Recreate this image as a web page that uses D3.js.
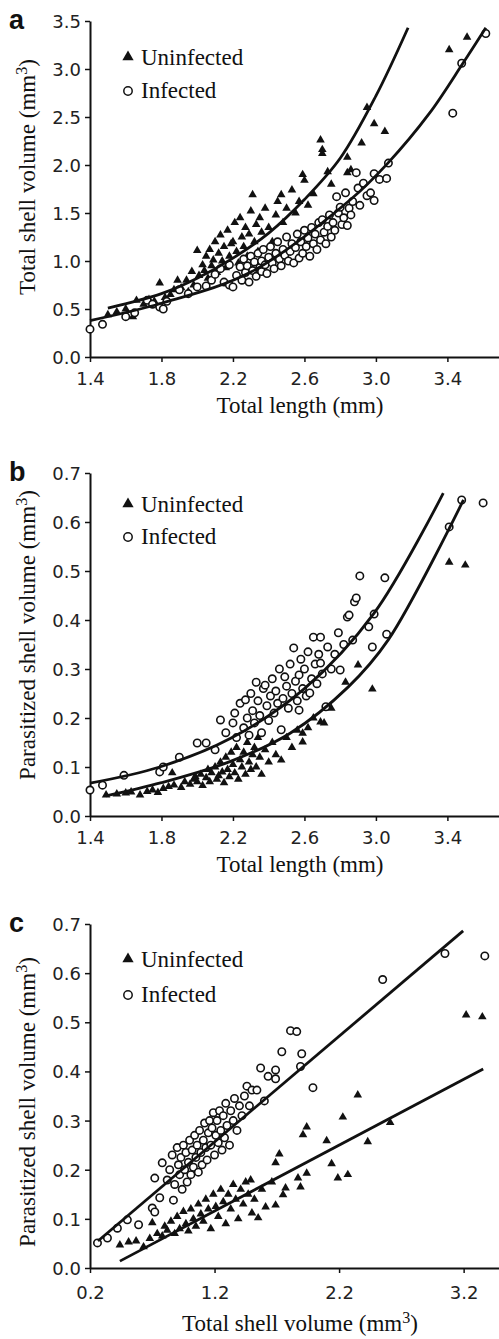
<!DOCTYPE html>
<html>
<head>
<meta charset="utf-8">
<script src="https://cdn.jsdelivr.net/npm/d3@7"></script>
<style>
  body { margin: 0; background: #fff; }
  svg { display: block; }
</style>
</head>
<body>
<div id="chart"></div>
<script>
// ---- panel a: total length (mm) vs total shell volume (mm3) ----
var aUninfected = [
  [1.50,0.44],[1.55,0.47],[1.60,0.50],[1.64,0.42],[1.66,0.59],[1.70,0.55],[1.73,0.60],[1.76,0.58],
  [1.79,0.77],[1.82,0.62],[1.85,0.65],[1.87,0.70],[1.89,0.80],[1.91,0.72],[1.94,0.80],[1.95,0.68],
  [1.97,0.89],[1.98,0.75],[2.00,1.11],[2.01,0.85],[2.03,0.96],[2.04,0.90],[2.05,1.05],[2.06,0.82],
  [2.07,1.12],[2.08,0.95],[2.09,1.01],[2.10,1.20],[2.11,0.88],[2.12,1.08],[2.13,1.27],[2.14,1.00],
  [2.15,1.15],[2.16,0.93],[2.17,1.32],[2.18,1.05],[2.19,1.18],[2.20,1.20],[2.21,1.40],[2.22,1.10],
  [2.23,0.98],[2.24,1.45],[2.25,1.25],[2.26,1.15],[2.27,1.35],[2.28,1.05],[2.29,1.28],[2.30,1.52],
  [2.31,1.69],[2.32,1.20],[2.33,1.38],[2.34,1.10],[2.35,1.45],[2.36,1.30],[2.38,1.55],[2.40,1.35],
  [2.42,1.20],[2.44,1.48],[2.45,1.62],[2.47,1.69],[2.48,1.40],[2.50,1.55],[2.53,1.74],[2.55,1.50],
  [2.57,1.62],[2.59,1.90],[2.60,1.84],[2.62,1.58],[2.65,1.70],[2.69,2.26],[2.70,2.16],[2.70,2.12],
  [2.73,1.93],[2.75,1.80],[2.84,2.08],[2.84,1.92],[2.86,1.95],[2.92,2.23],[2.95,2.60],[2.99,2.43],
  [3.05,2.35],[3.41,3.20],[3.51,3.33]
];
var aInfected = [
  [1.40,0.29],[1.47,0.34],[1.60,0.42],[1.65,0.46],[1.72,0.59],[1.75,0.55],[1.79,0.52],[1.81,0.50],
  [1.83,0.58],[1.90,0.70],[1.95,0.66],[2.00,0.73],[2.05,0.74],[2.08,0.80],[2.10,0.86],[2.13,0.92],
  [2.15,0.78],[2.18,0.75],[2.18,0.96],[2.20,0.73],[2.22,0.85],[2.24,0.94],[2.25,0.80],[2.26,1.02],
  [2.27,0.88],[2.28,0.95],[2.29,0.78],[2.30,1.05],[2.31,0.90],[2.32,0.99],[2.33,0.84],[2.34,1.08],
  [2.35,0.93],[2.36,0.89],[2.36,1.00],[2.37,1.12],[2.38,0.96],[2.39,0.87],[2.40,1.04],[2.41,1.15],
  [2.42,0.98],[2.43,0.92],[2.44,1.08],[2.45,1.20],[2.46,1.02],[2.47,0.95],[2.48,1.12],[2.49,1.06],
  [2.50,1.25],[2.51,1.00],[2.52,1.10],[2.53,1.18],[2.54,0.98],[2.55,1.14],[2.56,1.28],[2.57,1.03],
  [2.58,1.20],[2.59,1.08],[2.60,1.32],[2.61,1.15],[2.62,1.24],[2.63,1.05],[2.64,1.35],[2.65,1.18],
  [2.66,1.28],[2.67,1.12],[2.68,1.40],[2.69,1.22],[2.70,1.43],[2.71,1.30],[2.72,1.18],[2.73,1.36],
  [2.74,1.48],[2.75,1.25],[2.76,1.40],[2.77,1.32],[2.78,1.67],[2.79,1.50],[2.80,1.56],[2.81,1.38],
  [2.82,1.45],[2.83,1.71],[2.84,1.37],[2.85,1.55],[2.86,1.48],[2.87,1.62],[2.89,1.92],[2.90,1.76],
  [2.91,1.58],[2.93,1.81],[2.95,1.68],[2.97,1.71],[2.99,1.63],[2.99,1.91],[3.02,1.85],[3.06,1.86],
  [3.07,2.02],[3.43,2.54],[3.48,3.06],[3.615,3.37]
];
// fitted curves
var aFitUninfected = [[1.50,0.51],[1.80,0.66],[2.00,0.82],[2.20,1.03],[2.40,1.29],[2.60,1.64],[2.80,2.07],[3.00,2.72],[3.18,3.43]];
var aFitInfected = [[1.40,0.38],[1.80,0.56],[2.30,0.885],[2.855,1.635],[3.067,2.02],[3.30,2.54],[3.487,3.06],[3.615,3.43]];

// ---- panel b: total length (mm) vs parasitized shell volume (mm3) ----
var bUninfected = [
  [1.49,0.043],[1.55,0.045],[1.60,0.047],[1.63,0.049],[1.68,0.043],[1.72,0.050],[1.75,0.053],[1.78,0.048],
  [1.81,0.056],[1.84,0.060],[1.86,0.088],[1.87,0.063],[1.91,0.058],[1.93,0.070],[1.96,0.065],[1.98,0.075],
  [1.99,0.080],[2.00,0.070],[2.02,0.085],[2.03,0.062],[2.05,0.078],[2.06,0.095],[2.07,0.070],[2.08,0.088],
  [2.10,0.100],[2.11,0.075],[2.12,0.082],[2.13,0.110],[2.14,0.090],[2.15,0.068],[2.16,0.120],[2.17,0.095],
  [2.18,0.080],[2.19,0.130],[2.20,0.105],[2.21,0.088],[2.22,0.140],[2.23,0.075],[2.24,0.115],[2.25,0.100],
  [2.26,0.130],[2.27,0.085],[2.28,0.150],[2.29,0.110],[2.30,0.095],[2.31,0.125],[2.32,0.140],[2.33,0.100],
  [2.34,0.160],[2.35,0.120],[2.36,0.085],[2.38,0.135],[2.40,0.110],[2.42,0.150],[2.44,0.125],[2.47,0.114],
  [2.50,0.160],[2.53,0.140],[2.56,0.175],[2.59,0.169],[2.59,0.151],[2.62,0.180],[2.65,0.200],[2.69,0.192],
  [2.71,0.190],[2.75,0.220],[2.83,0.273],[2.90,0.308],[2.98,0.259],[3.41,0.518],[3.50,0.512]
];
var bInfected = [
  [1.40,0.053],[1.47,0.063],[1.59,0.083],[1.79,0.090],[1.81,0.100],[1.90,0.120],[2.00,0.149],[2.05,0.149],
  [2.10,0.135],[2.13,0.196],[2.16,0.170],[2.20,0.190],[2.21,0.210],[2.22,0.160],[2.24,0.230],[2.26,0.180],
  [2.27,0.237],[2.28,0.200],[2.29,0.165],[2.30,0.250],[2.31,0.215],[2.32,0.190],[2.33,0.273],[2.34,0.235],
  [2.35,0.205],[2.36,0.170],[2.37,0.260],[2.38,0.267],[2.39,0.225],[2.40,0.195],[2.41,0.245],[2.42,0.280],
  [2.43,0.210],[2.44,0.255],[2.45,0.230],[2.46,0.300],[2.47,0.176],[2.48,0.240],[2.49,0.284],[2.50,0.265],
  [2.51,0.220],[2.52,0.310],[2.53,0.250],[2.54,0.343],[2.55,0.275],[2.56,0.235],[2.57,0.288],[2.57,0.216],
  [2.58,0.320],[2.59,0.260],[2.60,0.300],[2.61,0.245],[2.62,0.335],[2.63,0.251],[2.64,0.280],[2.65,0.365],
  [2.66,0.310],[2.67,0.270],[2.68,0.330],[2.69,0.312],[2.69,0.365],[2.70,0.290],[2.72,0.223],[2.73,0.345],
  [2.75,0.300],[2.77,0.330],[2.79,0.374],[2.80,0.298],[2.82,0.350],[2.84,0.406],[2.85,0.410],[2.87,0.359],
  [2.88,0.437],[2.89,0.445],[2.91,0.490],[2.96,0.386],[2.98,0.345],[2.99,0.412],[3.05,0.486],[3.06,0.371],
  [3.41,0.590],[3.48,0.645],[3.60,0.639]
];
var bFitInfected = [[1.40,0.067],[1.79,0.100],[2.19,0.159],[2.60,0.260],[2.99,0.414],[3.377,0.659]];
var bFitUninfected = [[1.49,0.041],[1.80,0.068],[2.19,0.112],[2.52,0.169],[2.844,0.263],[3.07,0.360],[3.49,0.645]];

// ---- panel c: total shell volume (mm3) vs parasitized shell volume (mm3) ----
var cUninfected = [
  [0.44,0.047],[0.51,0.053],[0.57,0.055],[0.63,0.043],[0.68,0.060],[0.70,0.092],[0.74,0.070],[0.78,0.065],
  [0.80,0.085],[0.82,0.077],[0.85,0.095],[0.88,0.070],[0.90,0.105],[0.92,0.080],[0.95,0.115],[0.97,0.090],
  [0.99,0.075],[1.01,0.120],[1.03,0.100],[1.05,0.085],[1.07,0.130],[1.09,0.110],[1.11,0.095],[1.13,0.140],
  [1.15,0.120],[1.17,0.080],[1.19,0.150],[1.21,0.125],[1.23,0.105],[1.25,0.160],[1.27,0.135],[1.29,0.090],
  [1.31,0.150],[1.33,0.120],[1.35,0.170],[1.37,0.140],[1.39,0.100],[1.41,0.160],[1.43,0.130],[1.45,0.175],
  [1.47,0.150],[1.49,0.179],[1.50,0.112],[1.52,0.140],[1.55,0.102],[1.58,0.160],[1.61,0.124],[1.66,0.175],
  [1.69,0.128],[1.69,0.214],[1.72,0.232],[1.75,0.149],[1.77,0.163],[1.87,0.183],[1.89,0.165],[1.91,0.271],
  [1.94,0.287],[1.94,0.193],[2.10,0.259],[2.14,0.212],[2.19,0.183],[2.23,0.307],[2.27,0.190],[2.35,0.352],
  [2.43,0.257],[2.61,0.296],[3.22,0.515],[3.35,0.511]
];
var cInfected = [
  [0.26,0.051],[0.34,0.061],[0.42,0.081],[0.50,0.098],[0.59,0.088],[0.70,0.122],[0.72,0.114],[0.72,0.183],
  [0.76,0.143],[0.78,0.214],[0.82,0.179],[0.84,0.200],[0.86,0.230],[0.87,0.138],[0.88,0.170],[0.90,0.245],
  [0.91,0.210],[0.92,0.190],[0.93,0.225],[0.94,0.160],[0.95,0.250],[0.96,0.200],[0.97,0.235],[0.98,0.175],
  [0.99,0.215],[1.00,0.260],[1.01,0.190],[1.02,0.240],[1.03,0.205],[1.04,0.270],[1.05,0.225],[1.06,0.250],
  [1.07,0.195],[1.08,0.280],[1.09,0.235],[1.10,0.210],[1.11,0.260],[1.12,0.295],[1.13,0.245],[1.14,0.220],
  [1.15,0.275],[1.16,0.300],[1.17,0.250],[1.18,0.285],[1.19,0.316],[1.20,0.230],[1.21,0.270],[1.22,0.300],
  [1.23,0.255],[1.24,0.320],[1.25,0.280],[1.26,0.240],[1.27,0.310],[1.28,0.265],[1.29,0.335],[1.30,0.290],
  [1.32,0.250],[1.33,0.320],[1.35,0.300],[1.36,0.345],[1.38,0.280],[1.40,0.330],[1.42,0.310],[1.44,0.350],
  [1.46,0.370],[1.48,0.330],[1.50,0.362],[1.54,0.362],[1.57,0.407],[1.60,0.340],[1.63,0.390],[1.69,0.403],
  [1.69,0.385],[1.74,0.440],[1.81,0.483],[1.86,0.481],[1.89,0.410],[1.90,0.436],[1.99,0.367],[2.55,0.587],
  [3.05,0.640],[3.37,0.635]
];
var cFitInfected = [[0.264,0.055],[3.196,0.686]];
var cFitUninfected = [[0.44,0.014],[3.357,0.405]];

var lengthTicks = [1.4, 1.8, 2.2, 2.6, 3.0, 3.4];
var volumeTicks = [0.2, 1.2, 2.2, 3.2];
var aYTicks = [0.0, 0.5, 1.0, 1.5, 2.0, 2.5, 3.0, 3.5];
var bcYTicks = [0.0, 0.1, 0.2, 0.3, 0.4, 0.5, 0.6, 0.7];
var legendLabels = ['Uninfected', 'Infected'];

var SERIF = '"Liberation Serif", "Times New Roman", serif';
var SANS = '"DejaVu Sans", Verdana, sans-serif';
var INK = '#111';

var svg = d3.select('#chart').append('svg')
  .attr('width', 499)
  .attr('height', 1339);

// text with a trailing "3" superscript inside the unit
function addTitle(sel, parts) {
  parts.forEach(function (p) {
    var t = sel.append('tspan').text(p.text);
    if (p.sup) t.attr('baseline-shift', 'super').attr('font-size', '70%');
  });
}

function drawPanel(cfg) {
  var x = d3.scaleLinear().domain(cfg.xDomain).range([90, 501]);
  var y = d3.scaleLinear().domain(cfg.yDomain).range([cfg.bottom, cfg.top]);
  var g = svg.append('g');

  var xAxis = g.append('g')
    .attr('transform', 'translate(0,' + cfg.bottom + ')')
    .call(d3.axisBottom(x).tickValues(cfg.xTicks).tickSize(5).tickSizeOuter(0)
      .tickFormat(d3.format('.1f')));
  var yAxis = g.append('g')
    .attr('transform', 'translate(90,0)')
    .call(d3.axisLeft(y).tickValues(cfg.yTicks).tickSize(5).tickSizeOuter(0)
      .tickFormat(d3.format('.1f')));

  [xAxis, yAxis].forEach(function (ax) {
    ax.select('.domain').attr('stroke', INK).attr('stroke-width', 2);
    ax.selectAll('.tick line').attr('stroke', INK).attr('stroke-width', 1.5);
    ax.selectAll('.tick text')
      .attr('font-family', SANS).attr('font-size', 18).attr('fill', '#222');
  });
  xAxis.selectAll('.tick text').attr('y', cfg.xLabelDy).attr('dy', 0);
  yAxis.selectAll('.tick text').attr('x', -9).attr('dy', '0.36em');

  // points
  var tri = d3.symbol().type(d3.symbolTriangle).size(32);
  g.append('g').selectAll('path').data(cfg.uninfected).join('path')
    .attr('d', tri)
    .attr('transform', function (d) { return 'translate(' + x(d[0]) + ',' + y(d[1]) + ')'; })
    .attr('fill', INK);
  g.append('g').selectAll('circle').data(cfg.infected).join('circle')
    .attr('cx', function (d) { return x(d[0]); })
    .attr('cy', function (d) { return y(d[1]); })
    .attr('r', 3.7)
    .attr('fill', '#fff')
    .attr('stroke', INK)
    .attr('stroke-width', 1.6);

  // fitted curves
  var line = d3.line()
    .x(function (d) { return x(d[0]); })
    .y(function (d) { return y(d[1]); })
    .curve(d3.curveCatmullRom);
  [cfg.fitUninfected, cfg.fitInfected].forEach(function (pts) {
    g.append('path').datum(pts)
      .attr('d', line)
      .attr('fill', 'none')
      .attr('stroke', INK)
      .attr('stroke-width', 2.8);
  });

  // legend
  var lg = g.append('g').attr('font-family', SERIF).attr('font-size', 23).attr('fill', INK);
  lg.append('path')
    .attr('d', d3.symbol().type(d3.symbolTriangle).size(55))
    .attr('transform', 'translate(128,' + cfg.legendY[0] + ')')
    .attr('fill', INK);
  lg.append('circle')
    .attr('cx', 128).attr('cy', cfg.legendY[1]).attr('r', 4.2)
    .attr('fill', '#fff').attr('stroke', INK).attr('stroke-width', 1.5);
  lg.append('text').attr('x', 141).attr('y', cfg.legendY[0] + 8).text(legendLabels[0]);
  lg.append('text').attr('x', 141).attr('y', cfg.legendY[1] + 7).text(legendLabels[1]);

  // axis titles
  var xt = g.append('text')
    .attr('x', cfg.xTitleX).attr('y', cfg.bottom + cfg.xTitleDy)
    .attr('text-anchor', 'middle')
    .attr('font-family', SERIF).attr('font-size', 23).attr('fill', INK);
  addTitle(xt, cfg.xTitle);
  var yt = g.append('text')
    .attr('transform', 'translate(35,' + cfg.yTitleY + ') rotate(-90)')
    .attr('text-anchor', 'middle')
    .attr('font-family', SERIF).attr('font-size', 23).attr('fill', INK);
  addTitle(yt, cfg.yTitle);

  // panel letter
  g.append('text')
    .attr('x', 9).attr('y', cfg.top + 8)
    .attr('font-family', '"Liberation Sans", Arial, sans-serif')
    .attr('font-weight', 'bold').attr('font-size', 27).attr('fill', INK)
    .text(cfg.letter);
}

var lengthTitle = [{text: 'Total length (mm)'}];
var totalVolTitle = [{text: 'Total shell volume (mm'}, {text: '3', sup: true}, {text: ')'}];
var parasVolTitle = [{text: 'Parasitized shell volume (mm'}, {text: '3', sup: true}, {text: ')'}];

drawPanel({
  letter: 'a', top: 21, bottom: 357,
  xDomain: [1.4, 3.7], yDomain: [0, 3.5],
  xTicks: lengthTicks, yTicks: aYTicks, xLabelDy: 28,
  uninfected: aUninfected, infected: aInfected,
  fitUninfected: aFitUninfected, fitInfected: aFitInfected,
  legendY: [57, 91],
  xTitle: lengthTitle, xTitleX: 300, xTitleDy: 56,
  yTitle: totalVolTitle, yTitleY: 177
});
drawPanel({
  letter: 'b', top: 473, bottom: 816,
  xDomain: [1.4, 3.7], yDomain: [0, 0.7],
  xTicks: lengthTicks, yTicks: bcYTicks, xLabelDy: 28,
  uninfected: bUninfected, infected: bInfected,
  fitUninfected: bFitUninfected, fitInfected: bFitInfected,
  legendY: [504, 537],
  xTitle: lengthTitle, xTitleX: 300, xTitleDy: 56,
  yTitle: parasVolTitle, yTitleY: 635
});
drawPanel({
  letter: 'c', top: 924, bottom: 1268,
  xDomain: [0.2, 3.5], yDomain: [0, 0.7],
  xTicks: volumeTicks, yTicks: bcYTicks, xLabelDy: 31,
  uninfected: cUninfected, infected: cInfected,
  fitUninfected: cFitUninfected, fitInfected: cFitInfected,
  legendY: [959, 995],
  xTitle: totalVolTitle, xTitleX: 300, xTitleDy: 63,
  yTitle: parasVolTitle, yTitleY: 1102
});
</script>
</body>
</html>
